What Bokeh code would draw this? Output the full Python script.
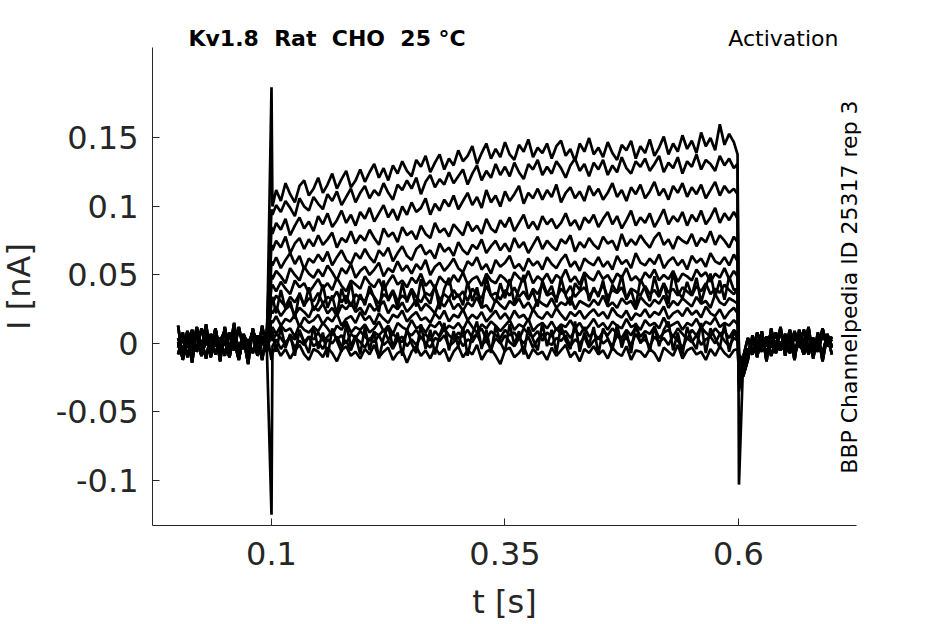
import numpy as np
from bokeh.plotting import figure
from bokeh.models import Range1d, FixedTicker, Label
from bokeh.embed import file_html
from bokeh.resources import INLINE

# ---------------- data ----------------
pre_t = [0.000, 0.005, 0.010, 0.015, 0.020, 0.025, 0.030, 0.035, 0.040, 0.045,
         0.050, 0.055, 0.060, 0.065, 0.070, 0.075, 0.080, 0.085, 0.090, 0.095]
on_t = 0.1
step_t = [0.101, 0.105, 0.110, 0.115, 0.120, 0.125, 0.130, 0.135, 0.140, 0.145,
          0.150, 0.155, 0.160, 0.165, 0.170, 0.175, 0.180, 0.185, 0.190, 0.195,
          0.200, 0.205, 0.210, 0.215, 0.220, 0.225, 0.230, 0.235, 0.240, 0.245,
          0.250, 0.255, 0.260, 0.265, 0.270, 0.275, 0.280, 0.285, 0.290, 0.295,
          0.300, 0.305, 0.310, 0.315, 0.320, 0.325, 0.330, 0.335, 0.340, 0.345,
          0.350, 0.355, 0.360, 0.365, 0.370, 0.375, 0.380, 0.385, 0.390, 0.395,
          0.400, 0.405, 0.410, 0.415, 0.420, 0.425, 0.430, 0.435, 0.440, 0.445,
          0.450, 0.455, 0.460, 0.465, 0.470, 0.475, 0.480, 0.485, 0.490, 0.495,
          0.500, 0.505, 0.510, 0.515, 0.520, 0.525, 0.530, 0.535, 0.540, 0.545,
          0.550, 0.555, 0.560, 0.565, 0.570, 0.575, 0.580, 0.585, 0.590, 0.595,
          0.599]
off_t = 0.6005
post_t = [0.605, 0.610, 0.615, 0.620, 0.625, 0.630, 0.635, 0.640, 0.645, 0.650,
          0.655, 0.660, 0.665, 0.670, 0.675, 0.680, 0.685, 0.690, 0.695, 0.700]

pre_a = [0.004, -0.006, 0.009, -0.002, 0.006, -0.009, 0.003, -0.004, 0.011, -0.007,
         0.002, -0.010, 0.007, -0.003, 0.005, -0.008, 0.010, -0.001, 0.004, -0.006]
pre_b = [-0.008, 0.005, -0.003, 0.010, -0.006, 0.002, -0.011, 0.007, -0.002, 0.004,
         -0.009, 0.008, -0.005, 0.012, -0.004, 0.003, -0.007, 0.006, -0.012, 0.009]
pre_c = [0.001, -0.011, 0.006, -0.005, 0.012, -0.002, 0.008, -0.009, 0.003, -0.006,
         0.010, -0.004, 0.002, -0.012, 0.007, -0.001, 0.009, -0.008, 0.005, -0.003]
pre_d = [-0.003, 0.008, -0.010, 0.004, -0.005, 0.011, -0.001, 0.006, -0.008, 0.002,
         0.009, -0.006, 0.003, -0.011, 0.005, -0.002, 0.007, -0.009, 0.001, 0.008]
pre_e = [0.013, -0.012, 0.006, -0.014, 0.010, -0.004, 0.014, -0.010, 0.008, -0.013,
         0.012, -0.006, 0.015, -0.011, 0.004, -0.015, 0.011, -0.008, 0.013, -0.005]

post_a = [-0.012, -0.004, -0.008, 0.003, -0.006, 0.005, -0.003, 0.008, -0.005, 0.002,
          -0.007, 0.006, -0.002, 0.010, -0.004, 0.004, -0.006, 0.007, -0.001, 0.003]
post_b = [-0.020, -0.009, 0.002, -0.005, 0.006, -0.008, 0.004, -0.003, 0.009, -0.006,
          0.003, -0.009, 0.005, -0.002, 0.008, -0.005, 0.001, -0.007, 0.006, -0.003]
post_c = [-0.010, 0.004, -0.007, 0.008, -0.002, 0.005, -0.009, 0.002, -0.004, 0.007,
          -0.006, 0.009, -0.003, 0.004, -0.008, 0.003, -0.005, 0.011, -0.002, 0.005]
post_d = [-0.016, -0.006, 0.003, -0.009, 0.005, -0.002, 0.008, -0.007, 0.001, -0.004,
          0.010, -0.005, 0.002, -0.008, 0.006, -0.001, 0.004, -0.010, 0.007, -0.002]
post_e = [-0.024, -0.012, 0.006, -0.010, 0.009, -0.013, 0.011, -0.006, 0.012, -0.009,
          0.007, -0.012, 0.010, -0.004, 0.012, -0.011, 0.008, -0.013, 0.006, -0.008]

step_1 = [0.100, 0.112, 0.104, 0.117, 0.109, 0.103, 0.115, 0.119, 0.108, 0.113,
          0.121, 0.110, 0.116, 0.124, 0.113, 0.120, 0.126, 0.114, 0.119, 0.127,
          0.118, 0.125, 0.131, 0.121, 0.128, 0.119, 0.130, 0.124, 0.133, 0.126,
          0.122, 0.134, 0.129, 0.137, 0.125, 0.132, 0.138, 0.127, 0.135, 0.130,
          0.141, 0.133, 0.137, 0.144, 0.131, 0.139, 0.146, 0.135, 0.142, 0.136,
          0.147, 0.138, 0.134, 0.145, 0.140, 0.149, 0.136, 0.143, 0.139, 0.146,
          0.135, 0.144, 0.148, 0.137, 0.142, 0.133, 0.146, 0.140, 0.150, 0.138,
          0.143, 0.136, 0.147, 0.139, 0.134, 0.145, 0.141, 0.148, 0.135, 0.144,
          0.139, 0.149, 0.137, 0.143, 0.151, 0.138, 0.146, 0.140, 0.152, 0.142,
          0.148, 0.139, 0.154, 0.144, 0.150, 0.141, 0.160, 0.145, 0.153, 0.147,
          0.138]
step_2 = [0.094, 0.101, 0.096, 0.104, 0.099, 0.093, 0.106, 0.100, 0.097, 0.107,
          0.102, 0.098, 0.109, 0.104, 0.111, 0.101, 0.107, 0.113, 0.103, 0.110,
          0.115, 0.106, 0.112, 0.108, 0.117, 0.110, 0.105, 0.116, 0.112, 0.119,
          0.113, 0.121, 0.109, 0.118, 0.123, 0.114, 0.120, 0.116, 0.125, 0.117,
          0.122, 0.127, 0.116, 0.124, 0.130, 0.119, 0.126, 0.121, 0.131, 0.123,
          0.129, 0.122, 0.132, 0.125, 0.120, 0.131, 0.127, 0.134, 0.123, 0.129,
          0.124, 0.133, 0.128, 0.121, 0.130, 0.135, 0.126, 0.131, 0.122, 0.132,
          0.127, 0.134, 0.123, 0.130, 0.125, 0.136, 0.128, 0.124, 0.133, 0.129,
          0.135, 0.126, 0.131, 0.137, 0.125, 0.132, 0.128, 0.136, 0.124, 0.133,
          0.129, 0.138, 0.127, 0.134, 0.131, 0.126, 0.137, 0.130, 0.135, 0.128,
          0.131]
step_3 = [0.080, 0.088, 0.083, 0.091, 0.079, 0.086, 0.092, 0.084, 0.089, 0.082,
          0.093, 0.087, 0.095, 0.085, 0.090, 0.097, 0.088, 0.094, 0.086, 0.096,
          0.091, 0.099, 0.089, 0.095, 0.101, 0.092, 0.098, 0.090, 0.100, 0.094,
          0.103, 0.096, 0.099, 0.106, 0.094, 0.102, 0.097, 0.105, 0.100, 0.108,
          0.098, 0.104, 0.110, 0.101, 0.107, 0.099, 0.112, 0.103, 0.108, 0.100,
          0.111, 0.104, 0.109, 0.115, 0.102, 0.110, 0.106, 0.113, 0.105, 0.112,
          0.107, 0.116, 0.103, 0.110, 0.114, 0.106, 0.111, 0.104, 0.115, 0.108,
          0.113, 0.105, 0.110, 0.117, 0.107, 0.112, 0.104, 0.114, 0.109, 0.116,
          0.106, 0.111, 0.118, 0.108, 0.113, 0.105, 0.115, 0.110, 0.117, 0.107,
          0.114, 0.109, 0.116, 0.106, 0.112, 0.118, 0.108, 0.115, 0.110, 0.113,
          0.109]
step_4 = [0.068, 0.075, 0.070, 0.078, 0.066, 0.073, 0.077, 0.069, 0.076, 0.071,
          0.079, 0.072, 0.076, 0.081, 0.070, 0.077, 0.074, 0.082, 0.073, 0.079,
          0.075, 0.083, 0.077, 0.072, 0.084, 0.078, 0.081, 0.074, 0.085, 0.079,
          0.082, 0.076, 0.086, 0.080, 0.077, 0.088, 0.081, 0.084, 0.078, 0.087,
          0.083, 0.079, 0.089, 0.082, 0.086, 0.080, 0.091, 0.084, 0.081, 0.090,
          0.085, 0.092, 0.082, 0.088, 0.094, 0.084, 0.089, 0.083, 0.093, 0.087,
          0.091, 0.084, 0.088, 0.095, 0.086, 0.090, 0.083, 0.092, 0.088, 0.094,
          0.085, 0.091, 0.096, 0.087, 0.093, 0.084, 0.090, 0.097, 0.086, 0.092,
          0.088, 0.095, 0.085, 0.091, 0.098, 0.087, 0.093, 0.089, 0.096, 0.086,
          0.094, 0.089, 0.097, 0.087, 0.092, 0.099, 0.088, 0.095, 0.090, 0.096,
          0.091]
step_5 = [0.057, 0.063, 0.055, 0.061, 0.066, 0.058, 0.064, 0.054, 0.062, 0.059,
          0.065, 0.060, 0.067, 0.057, 0.063, 0.068, 0.061, 0.058, 0.066, 0.062,
          0.069, 0.063, 0.059, 0.068, 0.064, 0.070, 0.060, 0.066, 0.071, 0.064,
          0.061, 0.069, 0.072, 0.065, 0.068, 0.062, 0.073, 0.067, 0.070, 0.064,
          0.074, 0.068, 0.065, 0.072, 0.069, 0.076, 0.066, 0.071, 0.075, 0.068,
          0.073, 0.067, 0.077, 0.070, 0.074, 0.066, 0.072, 0.078, 0.069, 0.075,
          0.071, 0.068, 0.076, 0.073, 0.079, 0.067, 0.074, 0.070, 0.077, 0.072,
          0.069, 0.078, 0.073, 0.075, 0.068, 0.080, 0.071, 0.076, 0.072, 0.079,
          0.074, 0.070, 0.077, 0.081, 0.072, 0.076, 0.069, 0.078, 0.075, 0.073,
          0.080, 0.071, 0.077, 0.074, 0.082, 0.072, 0.079, 0.075, 0.070, 0.078,
          0.074]
step_6 = [0.047, 0.053, 0.049, 0.044, 0.055, 0.050, 0.046, 0.056, 0.051, 0.048,
          0.054, 0.049, 0.057, 0.052, 0.046, 0.055, 0.051, 0.058, 0.048, 0.053,
          0.056, 0.050, 0.054, 0.059, 0.049, 0.055, 0.052, 0.060, 0.053, 0.057,
          0.051, 0.058, 0.054, 0.061, 0.050, 0.056, 0.059, 0.053, 0.057, 0.062,
          0.055, 0.052, 0.060, 0.057, 0.063, 0.054, 0.058, 0.051, 0.061, 0.056,
          0.059, 0.064, 0.055, 0.058, 0.053, 0.062, 0.057, 0.060, 0.054, 0.063,
          0.058, 0.055, 0.061, 0.065, 0.056, 0.060, 0.053, 0.062, 0.059, 0.057,
          0.063, 0.056, 0.060, 0.054, 0.064, 0.058, 0.061, 0.055, 0.066, 0.059,
          0.057, 0.062, 0.058, 0.065, 0.055, 0.060, 0.063, 0.057, 0.061, 0.054,
          0.064, 0.059, 0.062, 0.056, 0.066, 0.060, 0.058, 0.063, 0.057, 0.065,
          0.060]
step_7 = [0.043, 0.038, 0.045, 0.040, 0.036, 0.046, 0.041, 0.044, 0.037, 0.042,
          0.047, 0.040, 0.044, 0.039, 0.048, 0.042, 0.038, 0.046, 0.043, 0.040,
          0.049, 0.044, 0.041, 0.047, 0.039, 0.045, 0.050, 0.043, 0.046, 0.041,
          0.048, 0.044, 0.051, 0.042, 0.046, 0.040, 0.049, 0.045, 0.043, 0.050,
          0.045, 0.052, 0.043, 0.047, 0.049, 0.042, 0.051, 0.046, 0.044, 0.050,
          0.047, 0.043, 0.052, 0.048, 0.045, 0.053, 0.044, 0.049, 0.046, 0.051,
          0.044, 0.050, 0.047, 0.054, 0.045, 0.049, 0.043, 0.052, 0.048, 0.046,
          0.053, 0.047, 0.050, 0.044, 0.051, 0.048, 0.055, 0.046, 0.049, 0.045,
          0.052, 0.048, 0.054, 0.046, 0.050, 0.047, 0.053, 0.045, 0.051, 0.049,
          0.046, 0.054, 0.049, 0.052, 0.045, 0.051, 0.048, 0.055, 0.047, 0.053,
          0.049]
step_8 = [0.029, 0.035, 0.031, 0.027, 0.034, 0.030, 0.036, 0.028, 0.033, 0.031,
          0.037, 0.029, 0.034, 0.032, 0.038, 0.030, 0.035, 0.027, 0.036, 0.033,
          0.031, 0.038, 0.034, 0.029, 0.036, 0.033, 0.039, 0.031, 0.035, 0.032,
          0.040, 0.034, 0.030, 0.037, 0.035, 0.041, 0.032, 0.036, 0.033, 0.039,
          0.034, 0.038, 0.031, 0.040, 0.036, 0.033, 0.042, 0.035, 0.037, 0.032,
          0.039, 0.035, 0.041, 0.034, 0.038, 0.032, 0.040, 0.036, 0.043, 0.035,
          0.037, 0.033, 0.040, 0.036, 0.042, 0.034, 0.038, 0.041, 0.035, 0.039,
          0.036, 0.043, 0.034, 0.039, 0.037, 0.041, 0.033, 0.040, 0.038, 0.035,
          0.042, 0.036, 0.039, 0.034, 0.044, 0.037, 0.040, 0.035, 0.041, 0.038,
          0.035, 0.042, 0.038, 0.044, 0.036, 0.040, 0.037, 0.043, 0.039, 0.036,
          0.040]
step_9 = [0.022, 0.027, 0.020, 0.025, 0.028, 0.021, 0.026, 0.023, 0.019, 0.027,
          0.024, 0.029, 0.022, 0.026, 0.020, 0.028, 0.025, 0.030, 0.023, 0.026,
          0.021, 0.029, 0.024, 0.027, 0.031, 0.022, 0.028, 0.025, 0.030, 0.023,
          0.027, 0.032, 0.024, 0.029, 0.026, 0.022, 0.031, 0.027, 0.033, 0.025,
          0.029, 0.024, 0.030, 0.027, 0.034, 0.026, 0.028, 0.023, 0.032, 0.028,
          0.025, 0.031, 0.028, 0.033, 0.026, 0.030, 0.024, 0.032, 0.029, 0.027,
          0.033, 0.026, 0.030, 0.028, 0.034, 0.025, 0.031, 0.029, 0.027, 0.032,
          0.028, 0.035, 0.027, 0.030, 0.026, 0.033, 0.029, 0.031, 0.025, 0.034,
          0.030, 0.027, 0.032, 0.029, 0.035, 0.026, 0.031, 0.028, 0.033, 0.030,
          0.027, 0.034, 0.029, 0.031, 0.026, 0.036, 0.030, 0.028, 0.033, 0.031,
          0.029]
step_10 = [0.015, 0.020, 0.013, 0.018, 0.016, 0.021, 0.012, 0.019, 0.015, 0.017,
           0.021, 0.014, 0.019, 0.016, 0.022, 0.013, 0.018, 0.020, 0.015, 0.023,
           0.017, 0.020, 0.014, 0.022, 0.018, 0.015, 0.021, 0.019, 0.024, 0.016,
           0.020, 0.023, 0.017, 0.019, 0.015, 0.022, 0.018, 0.024, 0.016, 0.021,
           0.019, 0.025, 0.017, 0.021, 0.018, 0.023, 0.016, 0.020, 0.024, 0.018,
           0.022, 0.017, 0.024, 0.019, 0.021, 0.016, 0.025, 0.020, 0.018, 0.023,
           0.019, 0.026, 0.021, 0.017, 0.023, 0.020, 0.024, 0.018, 0.022, 0.025,
           0.020, 0.023, 0.018, 0.026, 0.021, 0.019, 0.024, 0.017, 0.022, 0.020,
           0.025, 0.019, 0.023, 0.021, 0.027, 0.018, 0.022, 0.024, 0.020, 0.026,
           0.021, 0.024, 0.019, 0.027, 0.022, 0.020, 0.025, 0.018, 0.023, 0.026,
           0.022]
step_11 = [0.012, 0.007, 0.013, 0.009, 0.011, 0.005, 0.014, 0.010, 0.008, 0.012,
           0.009, 0.015, 0.011, 0.006, 0.013, 0.010, 0.016, 0.008, 0.012, 0.010,
           0.014, 0.008, 0.011, 0.016, 0.009, 0.013, 0.007, 0.015, 0.012, 0.010,
           0.017, 0.011, 0.013, 0.008, 0.014, 0.012, 0.016, 0.009, 0.013, 0.011,
           0.015, 0.010, 0.017, 0.012, 0.008, 0.014, 0.011, 0.016, 0.013, 0.009,
           0.013, 0.017, 0.010, 0.014, 0.012, 0.018, 0.009, 0.013, 0.015, 0.011,
           0.016, 0.010, 0.014, 0.012, 0.017, 0.011, 0.015, 0.009, 0.013, 0.018,
           0.012, 0.015, 0.010, 0.016, 0.013, 0.011, 0.018, 0.012, 0.014, 0.010,
           0.017, 0.013, 0.015, 0.011, 0.019, 0.012, 0.014, 0.016, 0.010, 0.015,
           0.013, 0.018, 0.011, 0.016, 0.014, 0.019, 0.012, 0.015, 0.013, 0.017,
           0.014]
step_12 = [0.002, 0.007, 0.004, -0.001, 0.006, 0.003, 0.008, 0.001, 0.005, 0.003,
           0.008, 0.002, 0.005, 0.009, 0.003, 0.006, 0.000, 0.007, 0.004, 0.009,
           0.005, 0.002, 0.008, 0.006, 0.010, 0.003, 0.007, 0.004, 0.001, 0.008,
           0.006, 0.010, 0.004, 0.007, 0.002, 0.009, 0.005, 0.011, 0.006, 0.003,
           0.008, 0.005, 0.010, 0.004, 0.007, 0.011, 0.003, 0.009, 0.006, 0.004,
           0.010, 0.006, 0.008, 0.003, 0.011, 0.007, 0.005, 0.009, 0.002, 0.008,
           0.005, 0.011, 0.007, 0.009, 0.004, 0.010, 0.006, 0.012, 0.005, 0.008,
           0.003, 0.009, 0.006, 0.011, 0.007, 0.004, 0.010, 0.006, 0.012, 0.005,
           0.009, 0.007, 0.012, 0.004, 0.008, 0.010, 0.005, 0.011, 0.007, 0.003,
           0.010, 0.006, 0.012, 0.008, 0.005, 0.011, 0.007, 0.009, 0.004, 0.010,
           0.007]
step_13 = [-0.002, 0.003, -0.004, 0.001, 0.004, -0.003, 0.002, -0.001, 0.005, -0.002,
           0.001, -0.004, 0.003, 0.000, 0.005, -0.002, 0.002, -0.005, 0.004, 0.001,
           -0.003, 0.004, 0.001, 0.006, -0.001, 0.002, -0.004, 0.003, 0.005, -0.002,
           0.003, -0.001, 0.005, 0.000, -0.003, 0.004, 0.002, 0.006, -0.002, 0.001,
           0.005, -0.002, 0.003, 0.001, 0.007, -0.001, 0.002, -0.004, 0.004, 0.000,
           0.006, 0.001, -0.002, 0.004, 0.000, 0.005, -0.003, 0.003, 0.007, 0.001,
           -0.001, 0.004, 0.002, 0.006, -0.002, 0.003, 0.000, 0.005, -0.003, 0.002,
           0.005, 0.000, 0.003, -0.002, 0.006, 0.002, 0.004, -0.001, 0.007, 0.001,
           0.003, -0.002, 0.005, 0.001, 0.004, -0.001, 0.006, 0.002, -0.003, 0.004,
           0.001, 0.006, -0.001, 0.003, 0.005, 0.000, 0.007, 0.002, -0.002, 0.004,
           0.002]
step_14 = [-0.007, -0.002, -0.009, -0.004, -0.011, -0.005, -0.001, -0.008, -0.012, -0.004,
           -0.006, -0.010, -0.003, -0.007, -0.013, -0.005, -0.002, -0.009, -0.006, -0.011,
           -0.004, -0.008, -0.001, -0.010, -0.006, -0.003, -0.012, -0.007, -0.005, -0.014,
           -0.006, -0.002, -0.009, -0.005, -0.011, -0.003, -0.008, -0.004, -0.013, -0.006,
           -0.002, -0.010, -0.005, -0.008, -0.001, -0.012, -0.006, -0.004, -0.009, -0.015,
           -0.005, -0.003, -0.010, -0.007, -0.002, -0.011, -0.004, -0.008, -0.006, -0.012,
           -0.003, -0.009, -0.005, -0.001, -0.010, -0.006, -0.013, -0.004, -0.007, -0.002,
           -0.008, -0.005, -0.011, -0.003, -0.007, -0.009, -0.002, -0.012, -0.005, -0.006,
           -0.010, -0.004, -0.007, -0.013, -0.003, -0.006, -0.009, -0.001, -0.011, -0.005,
           -0.003, -0.008, -0.006, -0.012, -0.004, -0.009, -0.002, -0.007, -0.010, -0.005,
           -0.004]
step_15 = [0.009, -0.006, 0.012, -0.003, 0.007, -0.009, 0.010, 0.001, -0.007, 0.013,
           -0.004, 0.008, -0.010, 0.011, 0.002, -0.006, 0.014, -0.002, 0.006, -0.008,
           0.012, -0.005, 0.009, -0.011, 0.004, 0.013, -0.003, 0.008, -0.009, 0.011,
           0.000, -0.007, 0.014, -0.004, 0.010, -0.008, 0.006, 0.015, -0.005, 0.009,
           -0.002, 0.012, -0.009, 0.007, 0.016, -0.004, 0.010, -0.007, 0.013, 0.001,
           -0.006, 0.014, -0.001, 0.009, -0.008, 0.012, 0.003, -0.005, 0.015, -0.002,
           0.010, -0.007, 0.013, 0.002, -0.004, 0.016, -0.006, 0.008, -0.001, 0.012,
           -0.008, 0.011, 0.004, -0.005, 0.014, -0.003, 0.009, -0.007, 0.015, 0.000,
           0.007, -0.006, 0.013, -0.002, 0.010, 0.016, -0.005, 0.008, -0.008, 0.012,
           0.002, -0.004, 0.015, -0.007, 0.011, 0.004, -0.003, 0.014, -0.006, 0.009,
           0.003]
step_16 = [0.034, 0.022, 0.039, 0.025, 0.031, 0.018, 0.037, 0.027, 0.041, 0.024,
           0.030, 0.043, 0.026, 0.035, 0.021, 0.040, 0.029, 0.045, 0.025, 0.036,
           0.028, 0.042, 0.033, 0.023, 0.046, 0.031, 0.038, 0.026, 0.044, 0.030,
           0.039, 0.027, 0.047, 0.034, 0.029, 0.043, 0.025, 0.040, 0.048, 0.032,
           0.036, 0.028, 0.045, 0.031, 0.041, 0.026, 0.049, 0.035, 0.030, 0.044,
           0.033, 0.047, 0.029, 0.040, 0.050, 0.032, 0.038, 0.027, 0.046, 0.036,
           0.042, 0.030, 0.048, 0.035, 0.028, 0.044, 0.039, 0.051, 0.031, 0.041,
           0.034, 0.046, 0.029, 0.043, 0.037, 0.050, 0.032, 0.039, 0.027, 0.047,
           0.040, 0.031, 0.049, 0.036, 0.044, 0.029, 0.052, 0.038, 0.033, 0.045,
           0.035, 0.048, 0.030, 0.042, 0.051, 0.034, 0.046, 0.032, 0.049, 0.039,
           0.040]

steps = [step_1, step_2, step_3, step_4, step_5, step_6, step_7, step_8,
         step_9, step_10, step_11, step_12, step_13, step_14, step_15, step_16]
pres = [pre_a, pre_b, pre_c, pre_d, pre_e]
posts = [post_a, post_b, post_c, post_d, post_e]
on_peak = [0.187, 0.098, 0.085, 0.072, 0.060, 0.050, 0.041, 0.032, 0.024,
           0.017, 0.010, 0.004, -0.125, -0.012, 0.008, 0.030]
off_peak = [-0.103, -0.030, -0.020, -0.035, -0.015, -0.025, -0.010, -0.020,
            -0.012, -0.018, -0.008, -0.028, -0.015, -0.022, -0.020, -0.030]

y_ticks = [-0.1, -0.05, 0, 0.05, 0.1, 0.15]
y_tick_labels = ["-0.1", "-0.05", "0", "0.05", "0.1", "0.15"]
x_ticks = [0.1, 0.35, 0.6]
x_tick_labels = ["0.1", "0.35", "0.6"]
x_axis_extent = (-0.0274, 0.7263)
y_axis_extent = (-0.1328, 0.2161)

title_text = "Kv1.8\u00a0\u00a0Rat\u00a0\u00a0CHO\u00a0\u00a025 °C"
protocol_text = "Activation"
source_text = "BBP Channelpedia ID 25317 rep 3"

# ---------------- figure ----------------
FONT = "DejaVu Sans"
INK = "#262626"

p = figure(width=945, height=624, output_backend="svg", toolbar_location=None,
           x_range=Range1d(-0.19015, 0.82163), y_range=Range1d(-0.20511, 0.25036),
           min_border_left=0, min_border_right=0, min_border_top=0,
           min_border_bottom=0)
p.outline_line_color = None
p.xgrid.visible = False
p.ygrid.visible = False
p.background_fill_color = "white"
p.border_fill_color = "white"

for i, st in enumerate(steps):
    t = list(pre_t) + [on_t] + list(step_t) + [off_t] + list(post_t)
    v = list(pres[i % 5]) + [on_peak[i]] + list(st) + [off_peak[i]] + list(posts[i % 5])
    p.line(t, v, line_color="black", line_width=2.7)

for ax, ticks, labels in ((p.xaxis[0], x_ticks, x_tick_labels),
                          (p.yaxis[0], y_ticks, y_tick_labels)):
    ax.ticker = FixedTicker(ticks=ticks)
    ax.major_label_overrides = {tk: lb for tk, lb in zip(ticks, labels)}
    ax.minor_tick_line_color = None
    ax.major_tick_in = 7
    ax.major_tick_out = 0
    ax.axis_line_color = INK
    ax.major_tick_line_color = INK
    ax.major_label_text_font = FONT
    ax.major_label_text_font_size = "32px"
    ax.major_label_text_color = INK
    ax.axis_label_text_font = FONT
    ax.axis_label_text_font_size = "32px"
    ax.axis_label_text_color = INK
    ax.axis_label_text_font_style = "normal"

p.xaxis.fixed_location = y_axis_extent[0]
p.xaxis.bounds = x_axis_extent
p.yaxis.fixed_location = x_axis_extent[0]
p.yaxis.bounds = y_axis_extent

p.xaxis.axis_label = "t [s]"
p.yaxis.axis_label = "I [nA]"
p.xaxis.major_label_standoff = 17
p.xaxis.axis_label_standoff = 14
p.yaxis.major_label_standoff = 14
p.yaxis.axis_label_standoff = 15

p.add_layout(Label(x=0.0111, y=0.2223, text=title_text,
                   text_font=FONT, text_font_size="22px", text_font_style="bold",
                   text_color="black", text_align="left", text_baseline="alphabetic"))
p.add_layout(Label(x=0.7070, y=0.2223, text=protocol_text,
                   text_font=FONT, text_font_size="22px",
                   text_color="black", text_align="right", text_baseline="alphabetic"))
p.add_layout(Label(x=0.7188, y=0.0412, text=source_text,
                   text_font=FONT, text_font_size="22px", angle=np.pi / 2,
                   text_color="black", text_align="center", text_baseline="middle"))

open("out.html", "w").write(file_html(p, INLINE))
